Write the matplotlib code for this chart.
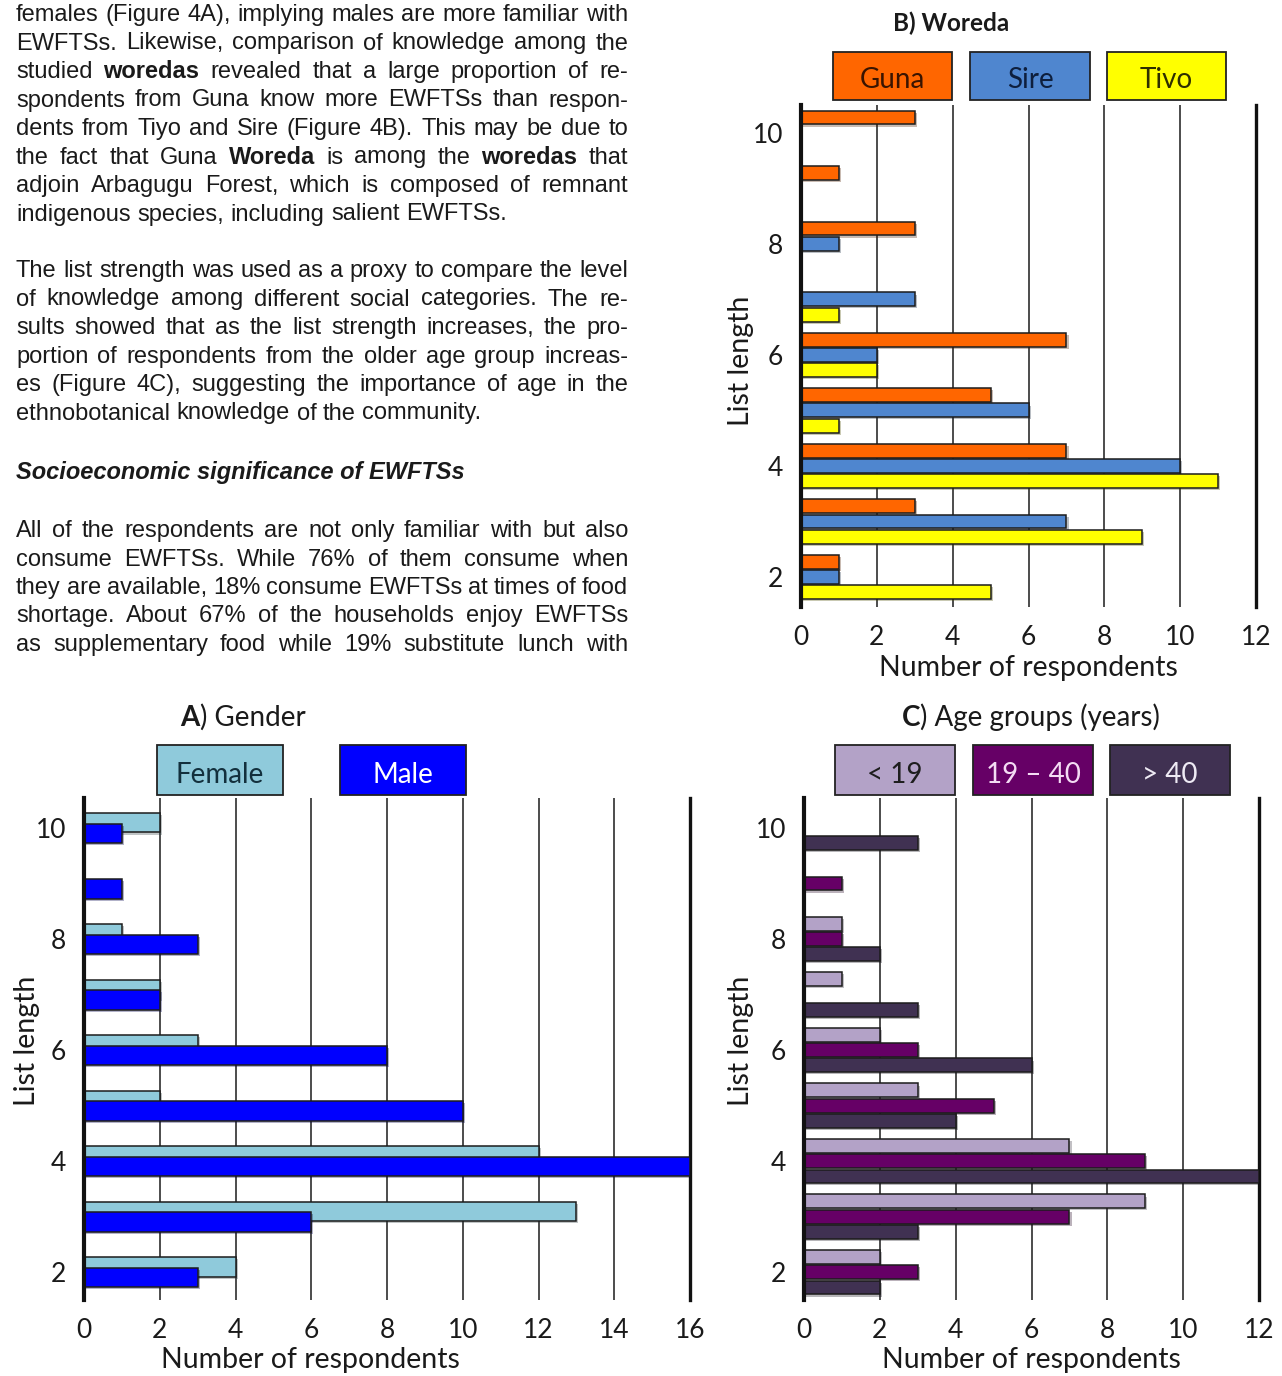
import matplotlib
matplotlib.use('Agg')
import matplotlib.pyplot as plt
import matplotlib.patheffects as pe
from matplotlib import font_manager
from matplotlib.patches import Rectangle
import numpy as np

W, H = 1282, 1376

# list length categories shared by the three panels
list_length = [2, 3, 4, 5, 6, 7, 8, 9, 10]
y_ticks = [2, 4, 6, 8, 10]

# A) gender
gender_labels = ['Female', 'Male']
female = [4, 13, 12, 2, 3, 2, 1, 0, 2]
male = [3, 6, 16, 10, 8, 2, 3, 1, 1]

# B) woreda
woreda_labels = ['Guna', 'Sire', 'Tivo']
guna = [1, 3, 7, 5, 7, 0, 3, 1, 3]
sire = [1, 7, 10, 6, 2, 3, 1, 0, 0]
tivo = [5, 9, 11, 1, 2, 1, 0, 0, 0]

# C) age groups
age_labels = ['< 19', '19 \u2013 40', '> 40']
age_under_19 = [2, 9, 7, 3, 2, 1, 1, 0, 0]
age_19_40 = [3, 7, 9, 5, 3, 0, 1, 1, 0]
age_over_40 = [2, 3, 12, 4, 6, 3, 2, 0, 3]

paragraph_1 = [
    'females (Figure 4A), implying males are more familiar with',
    'EWFTSs. Likewise, comparison of knowledge among the',
    'studied **woredas** revealed that a large proportion of re-',
    'spondents from Guna know more EWFTSs than respon-',
    'dents from Tiyo and Sire (Figure 4B). This may be due to',
    'the fact that Guna **Woreda** is among the **woredas** that',
    'adjoin Arbagugu Forest, which is composed of remnant',
    'indigenous species, including salient EWFTSs.',
]
paragraph_2 = [
    'The list strength was used as a proxy to compare the level',
    'of knowledge among different social categories. The re-',
    'sults showed that as the list strength increases, the pro-',
    'portion of respondents from the older age group increas-',
    'es (Figure 4C), suggesting the importance of age in the',
    'ethnobotanical knowledge of the community.',
]
heading = 'Socioeconomic significance of EWFTSs'
paragraph_3 = [
    'All of the respondents are not only familiar with but also',
    'consume EWFTSs. While 76% of them consume when',
    'they are available, 18% consume EWFTSs at times of food',
    'shortage. About 67% of the households enjoy EWFTSs',
    'as supplementary food while 19% substitute lunch with',
]

available = {f.name for f in font_manager.fontManager.ttflist}
body_font = 'Liberation Sans Narrow' if 'Liberation Sans Narrow' in available else 'Liberation Sans'
body_size = 18.5 if body_font == 'Liberation Sans Narrow' else 17
chart_font = 'Lato'
ink = '#1a1a1a'

fig = plt.figure(figsize=(W / 100, H / 100), dpi=100)
renderer = fig.canvas.get_renderer()


def put(s, x, y, **kw):
    return fig.text(x / W, 1 - y / H, s, **kw)


def measure(s, **kw):
    t = fig.text(0, 0, s, **kw)
    w = t.get_window_extent(renderer).width
    t.remove()
    return w


def draw_paragraph(lines, base, step, justify_last=False, left=16, right=628):
    kw = dict(family=body_font, size=body_size, color=ink, va='baseline', ha='left')
    space = measure('a a', **kw) - measure('aa', **kw)
    for k, line in enumerate(lines):
        words = [(w.strip('*'), 'bold' if w.startswith('**') else 'normal') for w in line.split(' ')]
        widths = [measure(s, weight=wt, **kw) for s, wt in words]
        last = k == len(lines) - 1 and not justify_last
        if last or len(words) == 1:
            gap = space
        else:
            gap = (right - left - sum(widths)) / (len(words) - 1)
        x = left
        for (s, wt), w in zip(words, widths):
            put(s, x, base + k * step, weight=wt, **kw)
            x += w + gap


def draw_runs(runs, cx, y, size=20):
    kw = dict(family=chart_font, size=size, color=ink, va='baseline', ha='left')
    widths = [measure(s, weight=wt, **kw) for s, wt in runs]
    x = cx - sum(widths) / 2
    for (s, wt), w in zip(runs, widths):
        put(s, x, y, weight=wt, **kw)
        x += w


def legend_boxes(boxes, labels, colors, text_colors):
    for (x0, y0, x1, y1), lab, col, tc in zip(boxes, labels, colors, text_colors):
        fig.patches.append(Rectangle((x0 / W, 1 - y1 / H), (x1 - x0) / W, (y1 - y0) / H,
                                     transform=fig.transFigure, facecolor=col,
                                     edgecolor='#222222', linewidth=1.3))
        put(lab, (x0 + x1) / 2, y1 - 12, family=chart_font, size=20, color=tc,
            ha='center', va='baseline')


def bar_panel(box, xmax, series, colors, height, step, ylim):
    left, top, right, bottom = box
    ax = fig.add_axes([left / W, 1 - bottom / H, (right - left) / W, (bottom - top) / H])
    y = np.array(list_length, dtype=float)
    n = len(series)
    for i, (vals, col) in enumerate(zip(series, colors)):
        offset = ((n - 1) / 2 - i) * step
        ax.barh(y + offset, vals, height=height, color=col, edgecolor='#1c1c1c',
                linewidth=1.1, zorder=3,
                path_effects=[pe.SimplePatchShadow(offset=(1.5, -1.5), alpha=0.3), pe.Normal()])
    for x in range(2, xmax, 2):
        ax.axvline(x, color='#2e2e2e', lw=1.2, zorder=1)
    ax.set_xlim(0, xmax)
    ax.set_ylim(*ylim)
    ax.set_xticks(range(0, xmax + 1, 2))
    ax.set_yticks(y_ticks)
    ax.tick_params(length=0, labelsize=19, labelcolor=ink)
    ax.tick_params(axis='x', pad=13)
    ax.tick_params(axis='y', pad=13)
    for lab in ax.get_xticklabels() + ax.get_yticklabels():
        lab.set_family(chart_font)
    ax.spines['top'].set_visible(False)
    ax.spines['bottom'].set_visible(False)
    ax.spines['left'].set_linewidth(3)
    ax.spines['left'].set_color('#111111')
    ax.spines['left'].set_zorder(5)
    ax.spines['right'].set_linewidth(2.4)
    ax.spines['right'].set_color('#111111')
    ax.patch.set_alpha(0)
    return ax


def axis_titles(xlabel_x, xlabel_y, ylabel_x, ylabel_y):
    put('Number of respondents', xlabel_x, xlabel_y, family=chart_font, size=20.5,
        color=ink, ha='center', va='baseline')
    put('List length', ylabel_x, ylabel_y, family=chart_font, size=20.5, color=ink,
        ha='center', va='center', rotation=90)


# text column
draw_paragraph(paragraph_1, 21, 28.5)
draw_paragraph(paragraph_2, 277, 28.5)
put(heading, 16, 479, family=body_font, size=body_size, weight='bold', style='italic',
    color=ink, va='baseline', ha='left')
draw_paragraph(paragraph_3, 537, 28.5, justify_last=True)

# B) Woreda
woreda_colors = ['#ff6600', '#4f86cf', '#ffff00']
bar_panel((801, 105, 1256, 607), 12, [guna, sire, tivo],
          woreda_colors, 0.25, 0.275, (1.46, 10.5))
draw_runs([('B) Woreda', 'bold')], 951, 31, size=17.5)
legend_boxes([(833, 52, 952, 100), (970, 52, 1090, 100), (1107, 52, 1226, 100)],
             woreda_labels, woreda_colors, ['#3a1400', '#0e1f3d', '#2e2e00'])
axis_titles(1028, 676, 741, 361)

# A) Gender
gender_colors = ['#8fcadb', '#0000ff']
bar_panel((84, 798, 690, 1300), 16, [female, male],
          gender_colors, 0.35, 0.19, (1.5, 10.54))
draw_runs([('A', 'bold'), (') Gender', 'normal')], 243, 726)
legend_boxes([(157, 745, 283, 795), (340, 745, 466, 795)],
             gender_labels, gender_colors, ['#13303d', '#ffffff'])
axis_titles(310, 1368, 27, 1041)

# C) Age groups
age_colors = ['#b3a2c7', '#660066', '#403152']
bar_panel((804, 798, 1259, 1300), 12, [age_under_19, age_19_40, age_over_40],
          age_colors, 0.25, 0.275, (1.5, 10.54))
draw_runs([('C', 'bold'), (') Age groups (years)', 'normal')], 1031, 726)
legend_boxes([(835, 745, 955, 795), (973, 745, 1093, 795), (1110, 745, 1230, 795)],
             age_labels, age_colors, ['#1e1e1e', '#f4dcf4', '#eeeaf4'])
axis_titles(1031, 1368, 741, 1041)

fig.savefig('out.png', dpi=100)
